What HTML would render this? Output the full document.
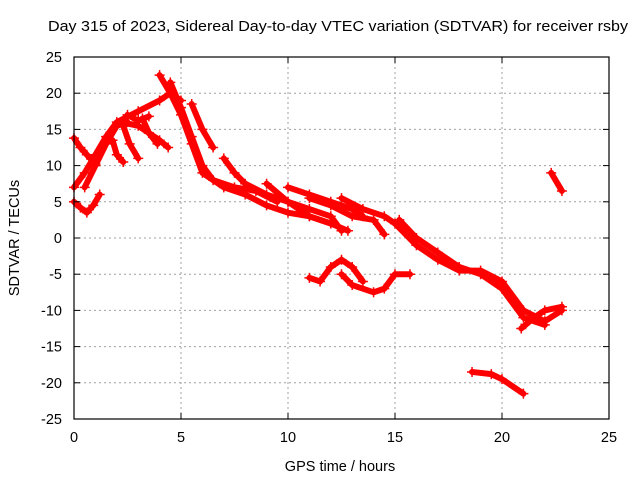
<!DOCTYPE html>
<html><head><meta charset="utf-8"><style>
body{margin:0;background:#fff;}
svg{display:block;font-family:"Liberation Sans",sans-serif;}
</style></head><body>
<svg id="chart" width="640" height="480" viewBox="0 0 640 480">
<text x="48" y="31" font-size="15" textLength="580" lengthAdjust="spacingAndGlyphs" fill="#000">Day 315 of 2023, Sidereal Day-to-day VTEC variation (SDTVAR) for receiver rsby</text>
<text x="340" y="471" font-size="14.5" text-anchor="middle">GPS time / hours</text>
<text transform="translate(19,238) rotate(-90)" font-size="14.5" text-anchor="middle">SDTVAR / TECUs</text>
<g id="grid"></g>
<g id="marks"></g>
<rect x="74" y="57" width="535" height="362" fill="none" stroke="#000" stroke-width="1.2"/>
<g id="ticks"></g>
</svg>
<script>
const xTicks=[0,5,10,15,20,25];
const yTicks=[-25,-20,-15,-10,-5,0,5,10,15,20,25];
const track1=[[0,13.8],[0.3,12.5],[0.6,11.5],[1.0,10.2]];
const track2=[[0,7],[0.5,9],[1,11.5],[1.5,14],[2,16],[3,17.5],[4,19],[4.5,20],[5,19]];
const track3=[[0,5],[0.3,4.2],[0.6,3.5],[0.9,4.5],[1.2,6]];
const track4=[[0.5,7],[1,10],[1.5,13],[2,15.5],[2.5,16]];
const track5=[[2.3,15.5],[2.6,13],[3,11]];
const track6=[[1.8,13.5],[2,11.5],[2.3,10.5]];
const track7=[[2.2,16],[3,15.5],[3.5,14.5],[4,13.5],[4.4,12.5]];
const track8=[[2.5,17],[3,16.2],[3.5,16.8]];
const track9=[[3.2,16.5],[3.5,14.5],[3.9,13]];
const track10=[[4,22.5],[4.5,20],[5,17],[5.5,13],[6,9],[7,7],[8,6],[9,4.5],[10,3.5],[11,3],[12,2]];
const track11=[[4.5,21.5],[5,18],[5.5,14],[6,10],[6.5,8],[7.5,7],[8.5,6.5],[9.5,5]];
const track12=[[5.5,18.5],[6,15],[6.5,12.5]];
const track13=[[7,11],[7.5,9],[8,7.5],[9,6],[10,5],[11,4],[12,3],[12.5,1]];
const track14=[[9,7.5],[10,5],[11,3],[12,2],[12.8,1]];
const track15=[[10,7],[11,6],[12,5],[13,4],[13.5,3]];
const track16=[[11,5.5],[12,4.5],[13,3],[14,2.5],[14.5,0.5]];
const track17=[[12.5,5.5],[13.5,4],[14.5,3],[15,2],[16,-1],[17,-3],[18,-4.5],[19,-4.5],[20,-6],[21,-10],[22,-11.5],[22.8,-10]];
const track18=[[15.2,2.5],[16,0],[17,-2],[18,-4],[19,-5],[20,-7],[21,-11],[22,-12]];
const track19=[[11,-5.5],[11.5,-6],[12,-4],[12.5,-3],[13,-4],[13.5,-6]];
const track20=[[12.5,-5],[13,-6.5],[14,-7.5],[14.5,-7],[15,-5],[15.7,-5]];
const track21=[[18.6,-18.5],[19.5,-18.8],[20,-19.5],[21,-21.5]];
const track22=[[22.3,9],[22.8,6.5]];
const track23=[[20.9,-12.5],[21.5,-11],[22,-10],[22.8,-9.5]];
const tracks=[track1,track2,track3,track4,track5,track6,track7,track8,track9,track10,track11,track12,track13,track14,track15,track16,track17,track18,track19,track20,track21,track22,track23];
const X0=74,X1=609,Y0=419,Y1=57;
function sx(v){return X0+(v-0)/(25-0)*(X1-X0);}
function sy(v){return Y0-(v+25)/50*(Y0-Y1);}
const NS='http://www.w3.org/2000/svg';
const grid=document.getElementById('grid'),ticks=document.getElementById('ticks'),marks=document.getElementById('marks');
function mk(t,a,p){const e=document.createElementNS(NS,t);for(const k in a)e.setAttribute(k,a[k]);p.appendChild(e);return e;}
xTicks.forEach(v=>{const x=sx(v);
 if(v>0&&v<25){const g=mk('line',{x1:x,x2:x,y1:Y1,y2:Y0,stroke:'#a0a0a0','stroke-dasharray':'2,3'},grid);
 
 }
 mk('line',{x1:x,x2:x,y1:Y0,y2:Y0-6,stroke:'#000'},ticks);mk('line',{x1:x,x2:x,y1:Y1,y2:Y1+6,stroke:'#000'},ticks);
 const t=mk('text',{x:x,y:442,'font-size':'14.5','text-anchor':'middle'},ticks);t.textContent=v;
 
 });
yTicks.forEach(v=>{const y=sy(v);
 if(v>-25&&v<25){const g=mk('line',{x1:X0,x2:X1,y1:y,y2:y,stroke:'#a0a0a0','stroke-dasharray':'2,3'},grid);
 
 }
 mk('line',{x1:X0,x2:X0+6,y1:y,y2:y,stroke:'#000'},ticks);mk('line',{x1:X1,x2:X1-6,y1:y,y2:y,stroke:'#000'},ticks);
 const t=mk('text',{x:62,y:y+5,'font-size':'14.5','text-anchor':'end'},ticks);t.textContent=v;
 
 });
tracks.forEach((tr,i)=>{
 const p=mk('polyline',{points:tr.map(d=>sx(d[0])+','+sy(d[1])).join(' '),fill:'none',stroke:'#f00','stroke-width':'6','stroke-linejoin':'round','stroke-linecap':'round'},marks);
 
 
 tr.forEach(d=>{const x=sx(d[0]),y=sy(d[1]);
  const m=mk('path',{d:`M${x-5},${y}H${x+5}M${x},${y-5}V${y+5}`,stroke:'#f00','stroke-width':'1.5'},marks);
  
  });
});
</script>
</body></html>
